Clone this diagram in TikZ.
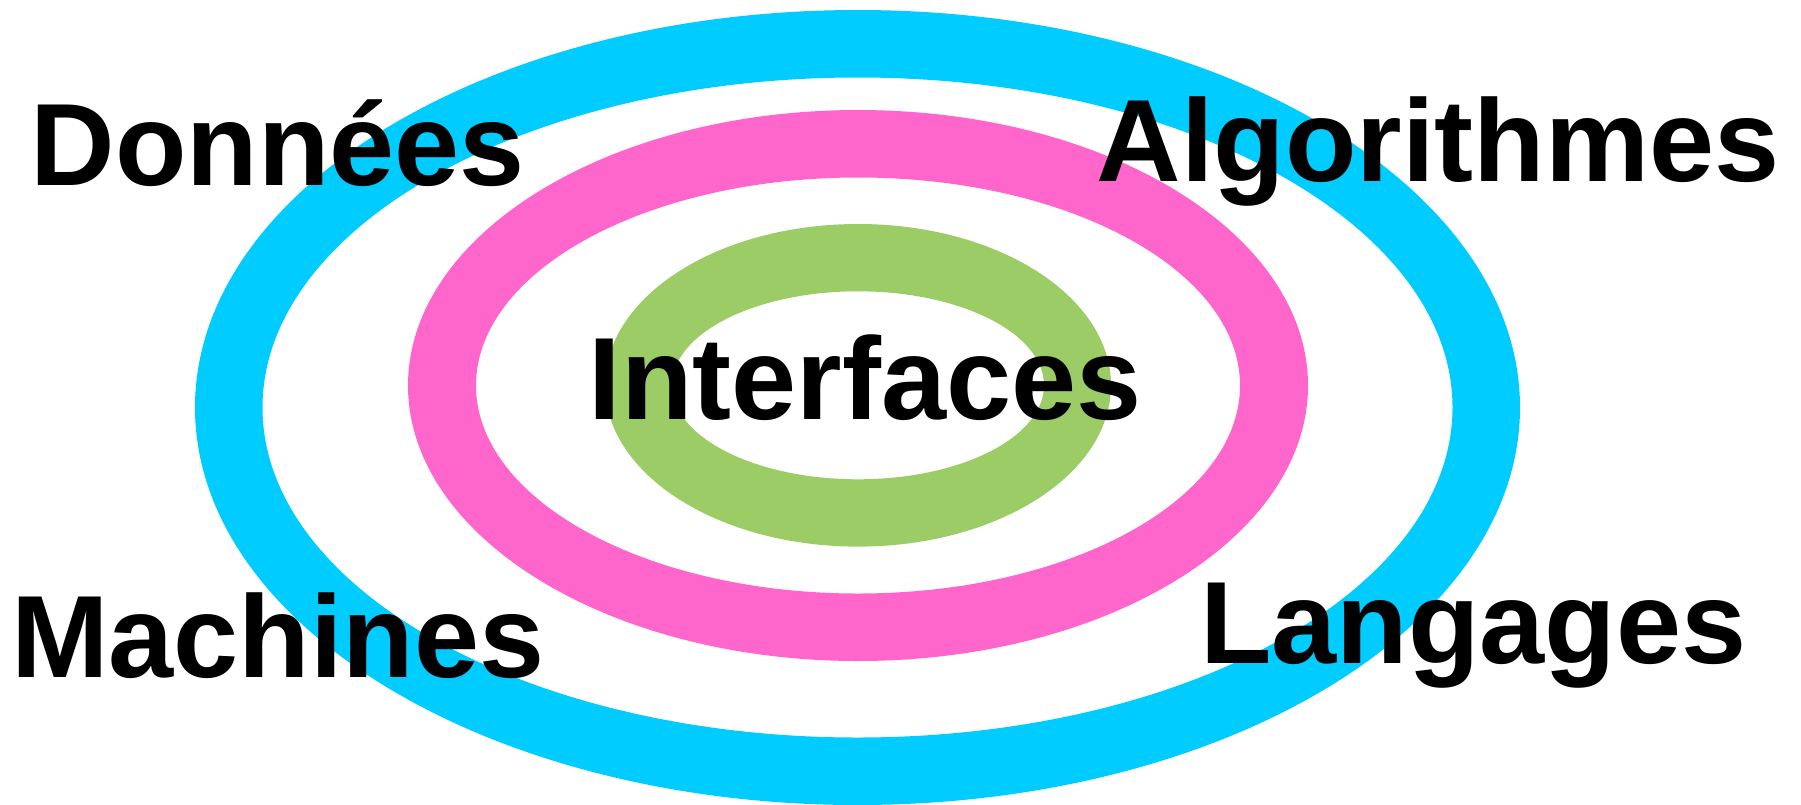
\documentclass[tikz,border=0pt]{standalone}
\usepackage{fontspec}
\setmainfont{Liberation Sans}
\begin{document}
\begin{tikzpicture}[x=1pt,y=-1pt,
  ringblue/.style={fill={rgb,255:red,0;green,204;blue,255}, even odd rule},
  ringpink/.style={fill={rgb,255:red,255;green,102;blue,204}, even odd rule},
  ringgreen/.style={fill={rgb,255:red,155;green,204;blue,102}, even odd rule},
  label/.style={inner sep=0pt, anchor=base, text=black,
    font=\fontsize{117}{120}\selectfont\bfseries}]
\useasboundingbox (0,0) rectangle (1801,804);
% concentric rings
\coordinate (cb) at (857.5,407.5);
\coordinate (cp) at (858,385.5);
\coordinate (cg) at (858,385.3);
\fill[ringblue] (cb) ellipse [x radius=662.5pt, y radius=397.5pt]
                (cb) ellipse [x radius=595pt, y radius=330pt];
\fill[ringpink] (cp) ellipse [x radius=450pt, y radius=275.5pt]
                (cp) ellipse [x radius=382pt, y radius=208pt];
\fill[ringgreen] (cg) ellipse [x radius=253pt, y radius=161.3pt]
                 (cg) ellipse [x radius=186pt, y radius=94pt];
% labels
\node[label] (donnees) at (277.9,185.7) {Données};
\node[label] (algo) at (1437.9,181) {Algorithmes};
\node[label] (machines) at (277.9,677) {Machines};
\node[label] (langages) at (1473.4,663.7) {Langages};
\node[label] (interfaces) at (864.9,419.3) {Interfaces};
\end{tikzpicture}
\end{document}
